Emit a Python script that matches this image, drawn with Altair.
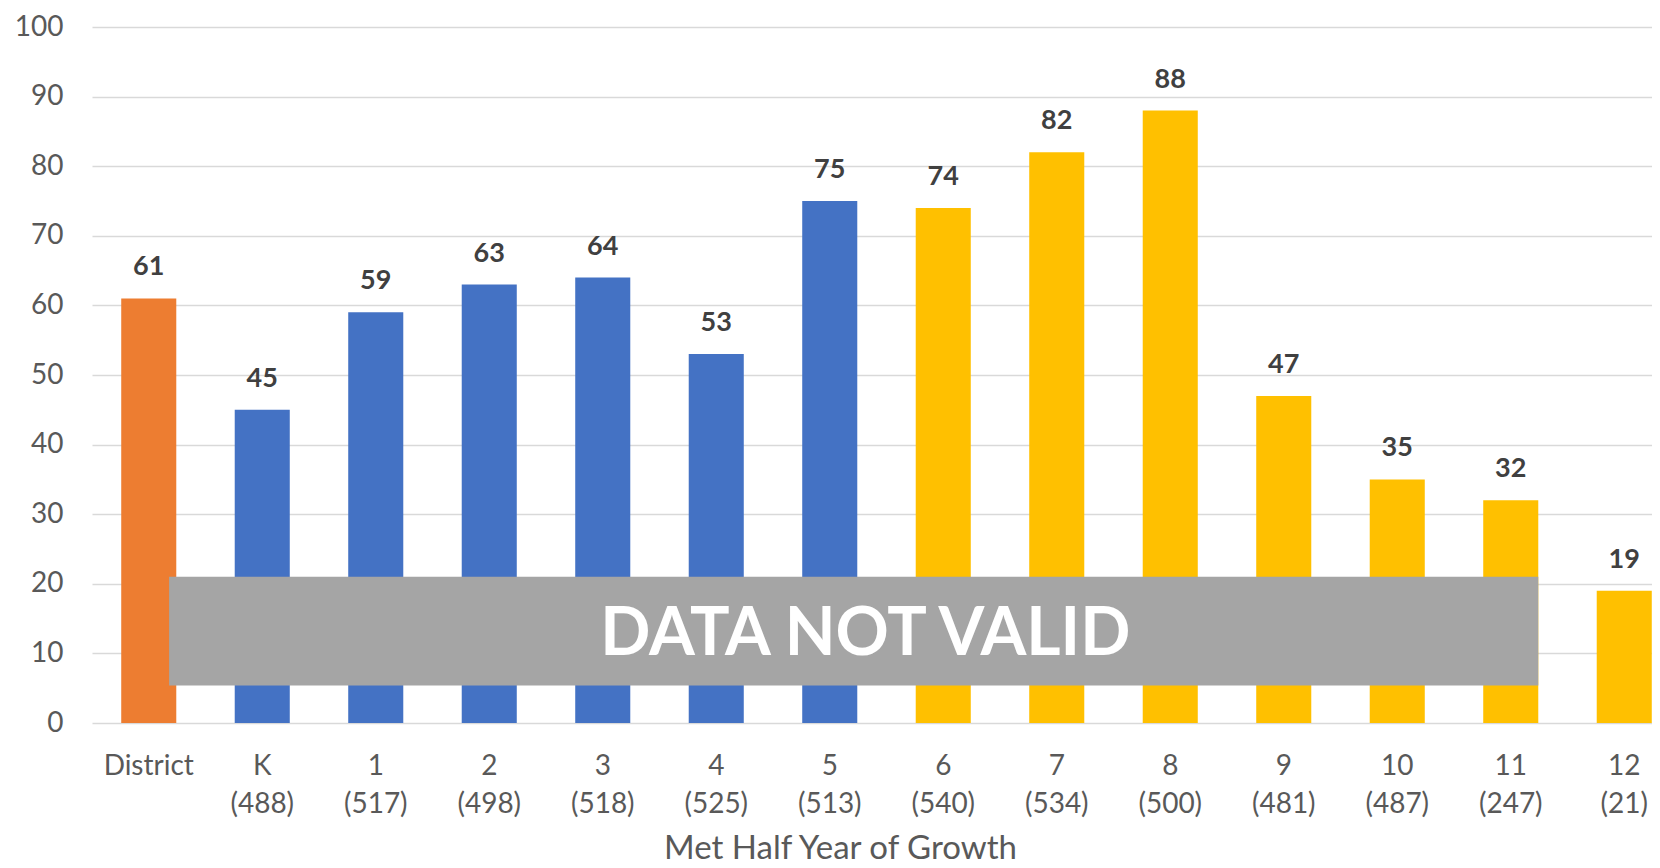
import altair as alt
import pandas as pd

categories = ["District", "K\n(488)", "1\n(517)", "2\n(498)", "3\n(518)", "4\n(525)",
              "5\n(513)", "6\n(540)", "7\n(534)", "8\n(500)", "9\n(481)", "10\n(487)",
              "11\n(247)", "12\n(21)"]
values = [61, 45, 59, 63, 64, 53, 75, 74, 82, 88, 47, 35, 32, 19]
groups = ["District", "Elementary", "Elementary", "Elementary", "Elementary", "Elementary",
          "Elementary", "Secondary", "Secondary", "Secondary", "Secondary", "Secondary",
          "Secondary", "Secondary"]
group_names = ["District", "Elementary", "Secondary"]
group_colors = ["#ED7D31", "#4472C4", "#FFC000"]
y_ticks = list(range(0, 101, 10))

overlay_start = ["District"]
overlay_end = ["11\n(247)"]
overlay_low = [5.4]
overlay_high = [21]
overlay_label = ["DATA NOT VALID"]
overlay_label_cat = ["5\n(513)"]
overlay_label_y = [9.8]

df = pd.DataFrame({"cat": categories, "value": values, "group": groups})
ov = pd.DataFrame({"start": overlay_start, "end": overlay_end,
                   "low": overlay_low, "high": overlay_high})
ovt = pd.DataFrame({"cat": overlay_label_cat, "y": overlay_label_y, "label": overlay_label})

FONT = "Lato"
xscale = alt.Scale(domain=categories, range=[0, 1589], paddingInner=0.515, paddingOuter=0.2575)
yscale = alt.Scale(domain=[0, 100])

x_axis = alt.Axis(labelExpr="split(datum.label, '\\n')", labelAngle=0, labelFontSize=28,
                  labelColor="#595959", labelFont=FONT, labelPadding=29, labelLineHeight=38,
                  ticks=False, domain=False, grid=False,
                  title="Met Half Year of Growth", titleFontSize=33, titleFont=FONT,
                  titleColor="#595959", titleFontWeight="normal",
                  titleX=748, titleY=135, titleAlign="center", titleBaseline="alphabetic")
y_axis = alt.Axis(values=y_ticks, labelFontSize=28, labelColor="#595959", labelFont=FONT,
                  labelPadding=29, ticks=False, domain=False, grid=True,
                  gridColor="#D9D9D9", gridWidth=1.5, title=None)

bars = alt.Chart(df).mark_bar().encode(
    x=alt.X("cat:N", scale=xscale, axis=x_axis),
    y=alt.Y("value:Q", scale=yscale, axis=y_axis),
    color=alt.Color("group:N", scale=alt.Scale(domain=group_names, range=group_colors), legend=None),
)

labels = alt.Chart(df).mark_text(dy=-23, baseline="alphabetic", fontWeight="bold",
                                 fontSize=27, font=FONT, color="#404040").encode(
    x=alt.X("cat:N", scale=xscale),
    y=alt.Y("value:Q", scale=yscale),
    text=alt.Text("value:Q"),
)

box = alt.Chart(ov).mark_rect(color="#A5A5A5").encode(
    x=alt.X("start:N", scale=xscale, bandPosition=0.87),
    x2=alt.X2("end", bandPosition=1.0),
    y=alt.Y("low:Q", scale=yscale),
    y2=alt.Y2("high"),
)

box_text = alt.Chart(ovt).mark_text(baseline="alphabetic", align="center", fontWeight="bold",
                                    fontSize=66, font=FONT, color="white", dx=8).encode(
    x=alt.X("cat:N", scale=xscale, bandPosition=1.0),
    y=alt.Y("y:Q", scale=yscale),
    text="label:N",
)

chart = alt.layer(bars, labels, box, box_text).properties(
    width=1560, height=696,
    autosize=alt.AutoSizeParams(type="none"),
    padding={"left": 84, "top": 19, "right": 0, "bottom": 146},
).configure_view(stroke=None)

chart.save("out.html", embed_options={"renderer": "svg", "actions": False})
